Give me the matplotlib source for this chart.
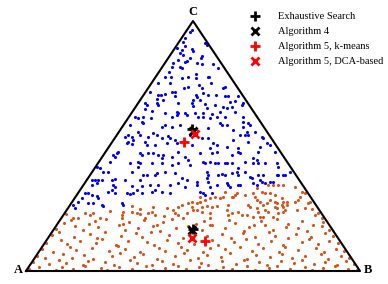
import matplotlib
matplotlib.use("Agg")
import matplotlib.pyplot as plt
import numpy as np
from matplotlib.lines import Line2D

# triangle frame: A=(0,0), B=(334,0), C=(167,250)
vertices = {"A": (0, 0), "B": (334, 0), "C": (167, 250)}

# points assigned to vertex C (upper cluster)
cluster_c = [
    (166, 241), (164, 239), (159, 233), (157, 229), (179, 228), (181, 226), (159, 225), (151, 223),
    (156, 221), (154, 218), (166, 222), (167, 220), (157, 216), (176, 215), (175, 213), (164, 213),
    (152, 211), (159, 209), (161, 210), (147, 208), (171, 208), (176, 207), (187, 207), (154, 204),
    (156, 203), (192, 203), (146, 204),
    (143, 199), (145, 194), (139, 194), (156, 193), (162, 194), (170, 197), (170, 193), (182, 194),
    (183, 194), (132, 188), (144, 188), (162, 184), (158, 183), (173, 186), (176, 183), (185, 188),
    (199, 184), (197, 183), (124, 179), (146, 179), (149, 179), (139, 177), (132, 176), (135, 176),
    (149, 175), (170, 176), (171, 174), (177, 178), (182, 176), (190, 176), (199, 175), (202, 175),
    (212, 175), (131, 172), (137, 171), (167, 171), (174, 171), (204, 169), (209, 170), (119, 168),
    (121, 166), (131, 168), (132, 166), (152, 168), (166, 168), (167, 165), (179, 167), (189, 166),
    (181, 163), (217, 168), (216, 166), (197, 164), (201, 163), (206, 164), (119, 162), (126, 160),
    (139, 158), (151, 159), (152, 158), (151, 156), (159, 158), (161, 156), (169, 158), (177, 158),
    (186, 157), (194, 159), (209, 159), (109, 154), (112, 153), (117, 154), (125, 153), (146, 154),
    (172, 154), (177, 154), (184, 153), (191, 154), (199, 154), (217, 154),
    (104, 146), (116, 149), (117, 148), (136, 144), (139, 146), (146, 144), (154, 146), (112, 139),
    (114, 136), (99, 134), (102, 136), (106, 134), (102, 129), (101, 128), (106, 127), (107, 131),
    (122, 134), (127, 138), (131, 136), (136, 133), (142, 135), (144, 133), (119, 129), (121, 126),
    (129, 126), (141, 128), (149, 131), (151, 128), (164, 136), (166, 126), (92, 119), (91, 118),
    (87, 116), (89, 114), (114, 118), (116, 116), (122, 118), (127, 118), (132, 116), (137, 116),
    (136, 113), (146, 114), (152, 119), (159, 114), (162, 111), (112, 109), (114, 108), (112, 104),
    (104, 108), (126, 108), (136, 108), (146, 106), (152, 108), (71, 104), (74, 103), (84, 109),
    (164, 106),
    (182, 143), (194, 148), (196, 146), (201, 146), (217, 149), (217, 144), (222, 148), (224, 146),
    (221, 139), (219, 136), (222, 136), (229, 139), (207, 141), (214, 136), (236, 134), (237, 133),
    (176, 133), (182, 133), (207, 131), (187, 128), (191, 126), (184, 123), (201, 124), (212, 123),
    (222, 129), (241, 128), (244, 126), (234, 124), (212, 119), (214, 118), (249, 119), (174, 118),
    (186, 118), (191, 119), (206, 116), (232, 119), (177, 109), (179, 108), (184, 109), (189, 108),
    (192, 108), (199, 108), (201, 108), (206, 108), (219, 109), (227, 113), (231, 111), (227, 108),
    (232, 108), (239, 108), (251, 108), (252, 104), (212, 103),
    (77, 99), (82, 99), (106, 99), (117, 96), (121, 96), (129, 96), (131, 98), (139, 99),
    (149, 98), (156, 93), (161, 91), (66, 91), (69, 91), (72, 91), (76, 91), (86, 91),
    (89, 92), (99, 91), (114, 91), (66, 86), (71, 88), (87, 86), (89, 84), (106, 85),
    (116, 85), (124, 86), (132, 86), (144, 86), (152, 88), (159, 84), (59, 78), (62, 78),
    (66, 76), (71, 75), (82, 79), (86, 81), (89, 78), (101, 78), (104, 77), (107, 78),
    (111, 81), (116, 78), (126, 79), (129, 81), (136, 79), (144, 78), (72, 73), (52, 69),
    (56, 73), (62, 68), (67, 68), (76, 66), (77, 65), (96, 68), (97, 66), (49, 63), (47, 66),
    (181, 99), (182, 96), (181, 93), (182, 89), (192, 96), (196, 97), (199, 96), (206, 98),
    (211, 99), (212, 96), (219, 99), (224, 94), (226, 93), (232, 96), (237, 96), (251, 96),
    (252, 96), (257, 96), (259, 96), (264, 99), (171, 89), (171, 86), (184, 84), (191, 86),
    (201, 88), (202, 86), (204, 84), (212, 86), (214, 86), (227, 88), (231, 86), (236, 89),
    (239, 88), (244, 89), (247, 89), (234, 91), (174, 79), (177, 78), (186, 78), (179, 76),
]

# points assigned to the lower cluster
cluster_ab = [
    (106, 65), (114, 62), (127, 64), (141, 63), (147, 61), (152, 64), (156, 66), (162, 68),
    (166, 69), (166, 64), (167, 61), (59, 58), (64, 56), (67, 58), (96, 56), (97, 59),
    (106, 59), (111, 58), (114, 57), (122, 58), (126, 59), (129, 56), (149, 58), (152, 56),
    (161, 58), (47, 53), (52, 53), (74, 53), (96, 53), (119, 53), (157, 53),
    (242, 86), (247, 86), (252, 86), (257, 86), (231, 83), (269, 84), (276, 79), (279, 78),
    (236, 79), (239, 78), (244, 78), (249, 76), (211, 78), (209, 76), (207, 74), (206, 74),
    (199, 79), (219, 76), (227, 78), (229, 74), (174, 74), (189, 74), (171, 68), (174, 69),
    (179, 71), (184, 73), (194, 73), (197, 74), (231, 71), (234, 69), (244, 71), (249, 69),
    (251, 68), (256, 73), (257, 69), (256, 66), (257, 64), (261, 69), (261, 66), (269, 69),
    (272, 71), (274, 74), (282, 68), (284, 69), (176, 64), (181, 65), (186, 64), (191, 65),
    (202, 66), (222, 66), (224, 64), (237, 66), (241, 68), (249, 64), (251, 63), (171, 61),
    (176, 59), (184, 58), (201, 61), (212, 59), (231, 63), (232, 59), (239, 61), (242, 59),
    (257, 59), (259, 61), (271, 61), (279, 63), (202, 56), (206, 58), (216, 56), (221, 56),
    (227, 54), (234, 54), (237, 54), (247, 54), (252, 58), (289, 56), (292, 58), (184, 53),
    (40, 57), (84, 60), (138, 55), (286, 62), (296, 53),
    (38, 48), (45, 51), (63, 47), (69, 50), (80, 52), (97, 47), (103, 49), (118, 51),
    (131, 46), (137, 49), (146, 52), (170, 47), (178, 50), (186, 46), (203, 51), (209, 48),
    (228, 46), (235, 50), (251, 52), (262, 47), (276, 50), (287, 46), (297, 49),
    (30, 42), (49, 45), (57, 41), (72, 44), (93, 46), (99, 41), (112, 43), (127, 45),
    (134, 40), (150, 43), (162, 45), (176, 41), (184, 46), (199, 43), (218, 40), (223, 44),
    (239, 46), (247, 41), (260, 44), (272, 43), (281, 40), (296, 45), (303, 41),
    (26, 36), (33, 39), (48, 34), (64, 37), (71, 33), (79, 39), (95, 35), (110, 38),
    (116, 34), (125, 39), (143, 36), (157, 33), (164, 38), (181, 35), (196, 37), (205, 33),
    (217, 38), (229, 34), (243, 39), (249, 35), (262, 33), (270, 37), (285, 34), (299, 38),
    (307, 35),
    (20, 28), (35, 31), (41, 27), (54, 30), (70, 28), (76, 32), (90, 26), (102, 30),
    (121, 29), (128, 26), (141, 31), (152, 28), (168, 27), (186, 31), (192, 26), (208, 29),
    (220, 32), (232, 27), (245, 30), (257, 26), (276, 29), (283, 32), (292, 27), (303, 30),
    (312, 28),
    (16, 22), (27, 19), (44, 24), (50, 21), (66, 23), (83, 20), (92, 25), (99, 22),
    (114, 19), (133, 23), (139, 20), (155, 24), (161, 21), (177, 19), (184, 23), (199, 22),
    (214, 24), (226, 20), (237, 23), (253, 19), (259, 24), (272, 21), (290, 23), (298, 19),
    (310, 22), (318, 20),
    (11, 15), (19, 13), (37, 17), (46, 13), (58, 16), (67, 12), (86, 15), (94, 18),
    (108, 14), (117, 17), (131, 12), (149, 15), (158, 18), (172, 13), (181, 16), (195, 14),
    (204, 18), (221, 12), (230, 16), (244, 14), (256, 17), (266, 13), (279, 15), (295, 17),
    (302, 12), (315, 15), (323, 13),
    (7, 9), (23, 7), (33, 11), (40, 8), (57, 6), (62, 10), (79, 9), (88, 6),
    (104, 11), (111, 8), (126, 6), (136, 10), (147, 7), (164, 11), (175, 8), (182, 6),
    (196, 10), (210, 7), (218, 11), (233, 9), (241, 6), (255, 10), (268, 8), (276, 11),
    (288, 7), (299, 9), (311, 6), (320, 10), (328, 7),
    (3, 2), (13, 4), (30, 1), (36, 4), (47, 2), (59, 5), (75, 3), (81, 1),
    (93, 4), (106, 2), (120, 5), (127, 1), (139, 3), (152, 5), (160, 2), (173, 4),
    (190, 1), (197, 4), (206, 2), (221, 5), (229, 1), (243, 3), (251, 5), (264, 2),
    (279, 4), (286, 1), (297, 3), (309, 5), (322, 2), (331, 1),
]

# cluster centres found by each method: (upper, lower)
exhaustive = [(166, 142), (167, 42)]
algorithm4 = [(167, 140), (166, 41)]
alg5_kmeans = [(158, 129), (179, 30)]
alg5_dca = [(169, 137), (166, 33)]

BLUE = "#0000ff"
ORANGE = "#d95319"

fig = plt.figure(figsize=(3.88, 2.84), dpi=100)
ax = fig.add_axes([0, 0, 1, 1])
ax.set_xlim(-26, 362)
ax.set_ylim(-13, 271)
ax.axis("off")

pts = np.array(cluster_c)
ax.scatter(pts[:, 0], pts[:, 1], s=5, color=BLUE, linewidths=0, zorder=2)
pts = np.array(cluster_ab)
ax.scatter(pts[:, 0], pts[:, 1], s=5, color=ORANGE, linewidths=0, zorder=2)

tri = np.array([vertices["A"], vertices["B"], vertices["C"], vertices["A"]])
ax.plot(tri[:, 0], tri[:, 1], color="black", lw=1.5, zorder=3)

serif = "Liberation Serif"
ax.text(-8, 1, "A", fontsize=9, fontweight="bold", family=serif, ha="center", va="center")
ax.text(342, 1, "B", fontsize=9, fontweight="bold", family=serif, ha="center", va="center")
ax.text(167, 259, "C", fontsize=9, fontweight="bold", family=serif, ha="center", va="center")

styles = [
    (exhaustive, "+", "black", "Exhaustive Search"),
    (algorithm4, "x", "black", "Algorithm 4"),
    (alg5_kmeans, "+", "red", "Algorithm 5, k-means"),
    (alg5_dca, "x", "red", "Algorithm 5, DCA-based"),
]
handles = []
for centres, marker, color, label in styles:
    c = np.array(centres)
    size = 7 if marker == "+" else 5.5
    ax.plot(c[:, 0], c[:, 1], linestyle="none", marker=marker, color=color,
            markersize=size, mew=2, zorder=4)
    handles.append(Line2D([], [], linestyle="none", marker=marker, color=color,
                          markersize=size, mew=2, label=label))

fig.legend(handles=handles, loc="upper left", bbox_to_anchor=(247 / 388, 1 - 12 / 284),
           frameon=False, prop={"family": serif, "size": 7.5}, handlelength=1.5,
           handletextpad=1.5, labelspacing=0.55, borderaxespad=0, borderpad=0)

fig.savefig("out.png", dpi=100)
